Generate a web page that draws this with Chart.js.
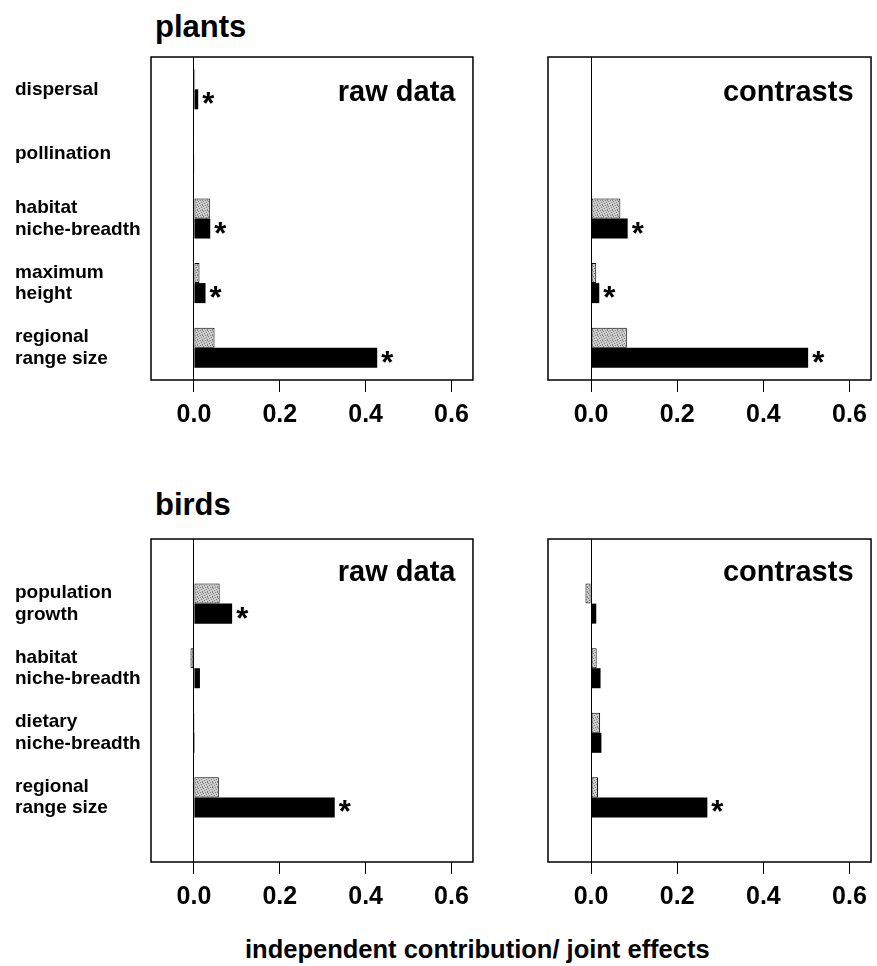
<!DOCTYPE html>
<html>
<head>
<meta charset="utf-8">
<script src="https://cdn.jsdelivr.net/npm/chart.js@4/dist/chart.umd.min.js"></script>
<style>
body { margin:0; background:#fff; width:877px; height:966px; position:relative; overflow:hidden;
       font-family:"Liberation Sans", Arial, sans-serif; }
canvas { position:absolute; }
.t { position:absolute; font-weight:bold; color:#000; white-space:nowrap; line-height:1; }
</style>
</head>
<body>
<div class="t" style="left:155px;top:11px;font-size:31px">plants</div>
<div class="t" style="left:155px;top:489px;font-size:31px">birds</div>
<div class="t" style="left:245px;top:937px;font-size:25.5px">independent contribution/ joint effects</div>

<canvas id="p1" width="477" height="385" style="left:0;top:55px"></canvas>
<canvas id="p2" width="335" height="385" style="left:540px;top:55px"></canvas>
<canvas id="p3" width="477" height="385" style="left:0;top:537px"></canvas>
<canvas id="p4" width="335" height="385" style="left:540px;top:537px"></canvas>

<script>
const plantTraits = [['dispersal'], ['pollination'], ['habitat', 'niche-breadth'], ['maximum', 'height'], ['regional', 'range size']];
const birdTraits = [['population', 'growth'], ['habitat', 'niche-breadth'], ['dietary', 'niche-breadth'], ['regional', 'range size']];
const xTicks = [0, 0.2, 0.4, 0.6];

// grey = joint effects, black = independent contribution, star = significant
const plantsRawJoint = [0.003, 0.001, 0.037, 0.013, 0.048];
const plantsRawIndep = [0.01, 0.001, 0.038, 0.027, 0.427];
const plantsRawStar  = [1, 0, 1, 1, 1];
const plantsConJoint = [0, 0.001, 0.068, 0.012, 0.083];
const plantsConIndep = [0, 0.002, 0.085, 0.019, 0.504];
const plantsConStar  = [0, 0, 1, 1, 1];
const birdsRawJoint = [0.06, -0.008, 0.002, 0.058];
const birdsRawIndep = [0.089, 0.014, 0.002, 0.328];
const birdsRawStar  = [1, 0, 0, 1];
const birdsConJoint = [-0.013, 0.013, 0.021, 0.016];
const birdsConIndep = [0.012, 0.022, 0.024, 0.27];
const birdsConStar  = [0, 0, 0, 1];

// stippled grey fill
const pc = document.createElement('canvas');
pc.width = 5; pc.height = 5;
const px = pc.getContext('2d');
px.fillStyle = '#cccccc'; px.fillRect(0, 0, 5, 5);
px.fillStyle = '#808080';
[[0, 0], [3, 1], [1, 2], [4, 3], [2, 4], [2, 0]].forEach(p => px.fillRect(p[0], p[1], 1, 1));
const grey = px.createPattern(pc, 'repeat');

const panelDeco = {
    id: 'panelDeco',
    afterDatasetsDraw(chart, args, o) {
        const ctx = chart.ctx, a = chart.chartArea;
        ctx.save();
        ctx.strokeStyle = '#000';
        ctx.lineWidth = 1.5;
        ctx.strokeRect(a.left, a.top, a.right - a.left, a.bottom - a.top);
        ctx.fillStyle = '#000';
        ctx.font = 'bold 29px "Liberation Sans", Arial, sans-serif';
        ctx.textAlign = 'right';
        ctx.textBaseline = 'alphabetic';
        ctx.fillText(o.caption, a.right - 17.5, a.top + o.capY);
        // asterisks after the black bars
        const meta = chart.getDatasetMeta(1);
        ctx.font = 'bold 31px "Liberation Sans", Arial, sans-serif';
        ctx.textAlign = 'left';
        o.stars.forEach((s, i) => {
            if (!s) return;
            const el = meta.data[i];
            ctx.fillText('*', el.x + 4, el.y + 15);
        });
        ctx.restore();
    }
};

function panel(id, cats, joint, indep, stars, showLabels, caption, padded) {
    let labels = cats, j = joint, d = indep, st = stars;
    if (padded) {
        labels = [''].concat(cats, ['']);
        j = [null].concat(joint, [null]);
        d = [null].concat(indep, [null]);
        st = [0].concat(stars, [0]);
    }
    return new Chart(document.getElementById(id).getContext('2d'), {
        type: 'bar',
        data: {
            labels: labels,
            datasets: [
                { data: j, backgroundColor: grey, borderColor: '#000', borderWidth: 1, borderSkipped: false },
                { data: d, backgroundColor: '#000', borderColor: '#000', borderWidth: 0 }
            ]
        },
        plugins: [panelDeco],
        options: {
            indexAxis: 'y',
            responsive: false,
            animation: false,
            categoryPercentage: 0.62,
            barPercentage: 1,
            layout: { padding: { left: showLabels ? 15 : 0, top: 2, right: 2, bottom: 0 } },
            plugins: {
                legend: { display: false },
                tooltip: { enabled: false },
                panelDeco: { caption: caption, stars: st, capY: padded ? 41.5 : 44 }
            },
            scales: {
                x: {
                    min: -0.1,
                    max: 0.65,
                    afterBuildTicks: s => { s.ticks = xTicks.map(v => ({ value: v })); },
                    afterFit: s => { s.height = 60; },
                    border: { display: false },
                    grid: {
                        color: c => (c.tick && c.tick.value === 0) ? '#000' : 'rgba(0,0,0,0)',
                        lineWidth: 1,
                        tickColor: '#000',
                        tickWidth: 1,
                        tickLength: 12
                    },
                    ticks: {
                        color: '#000',
                        padding: 8,
                        autoSkip: false,
                        maxRotation: 0,
                        font: { family: '"Liberation Sans", Arial, sans-serif', size: 25, weight: 'bold' },
                        callback: v => v.toFixed(1)
                    }
                },
                y: {
                    offset: !padded,
                    afterFit: s => {
                        s.width = showLabels ? 136 : 8;
                        s.paddingTop = 0;
                        s.paddingBottom = 0;
                    },
                    border: { display: false },
                    grid: { display: false },
                    ticks: {
                        display: showLabels,
                        color: '#000',
                        crossAlign: 'far',
                        autoSkip: false,
                        font: { family: '"Liberation Sans", Arial, sans-serif', size: 19, weight: 'bold', lineHeight: 1.14 }
                    }
                }
            }
        }
    });
}

panel('p1', plantTraits, plantsRawJoint, plantsRawIndep, plantsRawStar, true, 'raw data', false);
panel('p2', plantTraits, plantsConJoint, plantsConIndep, plantsConStar, false, 'contrasts', false);
panel('p3', birdTraits, birdsRawJoint, birdsRawIndep, birdsRawStar, true, 'raw data', true);
panel('p4', birdTraits, birdsConJoint, birdsConIndep, birdsConStar, false, 'contrasts', true);
</script>
</body>
</html>
